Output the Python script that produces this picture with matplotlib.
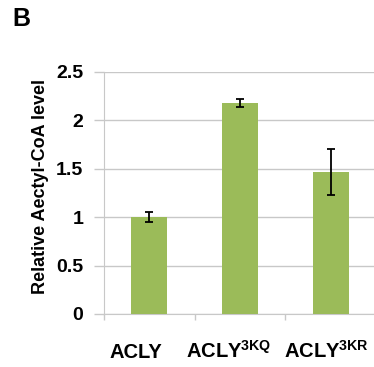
import matplotlib
matplotlib.use("Agg")
import matplotlib.pyplot as plt
import matplotlib.transforms as mtransforms
import numpy as np

categories = [r"ACLY", r"ACLY$^{\mathbf{3KQ}}$", r"ACLY$^{\mathbf{3KR}}$"]
values = [1.0, 2.18, 1.465]
errors = [0.05, 0.045, 0.24]
yticks = [0, 0.5, 1, 1.5, 2, 2.5]
ytick_labels = ["0", "0.5", "1", "1.5", "2", "2.5"]

plt.rcParams['font.family'] = ['Liberation Sans', 'DejaVu Sans']
plt.rcParams['mathtext.fontset'] = 'custom'
plt.rcParams['mathtext.rm'] = 'Liberation Sans:bold'
plt.rcParams['mathtext.bf'] = 'Liberation Sans:bold'
plt.rcParams['mathtext.it'] = 'Liberation Sans:bold'

fig = plt.figure(figsize=(3.74, 3.67), dpi=100)
ax = fig.add_axes([104/374, 53/367, 272/374, 242/367])

x = np.arange(len(categories))
ax.bar(x, values, width=0.4, color='#9BBB59', zorder=3)
ax.errorbar(x, values, yerr=errors, fmt='none', ecolor='black', elinewidth=1.3,
            capsize=3, capthick=1.3, zorder=4)

ax.set_xlim(-0.5, 2.5)
ax.set_ylim(0, 2.5)
ax.set_yticks(yticks)
ax.set_yticklabels(ytick_labels, fontsize=14, fontweight='bold')
ax.yaxis.grid(True, color='#c8c8c8', linewidth=1.0, zorder=0)
ax.set_axisbelow(True)

ax.set_xticks(x)
ax.set_xticklabels([])
label_shift_px = [-13, -11, -4]
for xi, lab, dx in zip(x, categories, label_shift_px):
    tr = ax.get_xaxis_transform() + mtransforms.ScaledTranslation(dx / 100, -44 / 100, fig.dpi_scale_trans)
    ax.text(xi, 0, lab, transform=tr, fontsize=14.5, fontweight='bold',
            ha='center', va='baseline', clip_on=False)
ax.set_xticks([-0.5, 0.5, 1.5, 2.5], minor=True)
ax.tick_params(axis='x', which='major', length=0)
ax.tick_params(axis='x', which='minor', length=4, color='#c8c8c8', width=1)
ax.tick_params(axis='y', length=7, color='#c8c8c8', width=1, pad=8)

for s in ['top', 'right']:
    ax.spines[s].set_visible(False)
ax.spines['left'].set_color('#c8c8c8')
ax.spines['bottom'].set_color('#c8c8c8')

fig.text(41/374, 1 - 187/367, "Relative Aectyl-CoA level", rotation=90,
         fontsize=13, fontweight='bold', ha='center', va='center')
fig.text(12/374, 1 - 19/367, "B", fontsize=18, fontweight='bold', ha='left', va='center')

fig.savefig("out.png", dpi=100)
